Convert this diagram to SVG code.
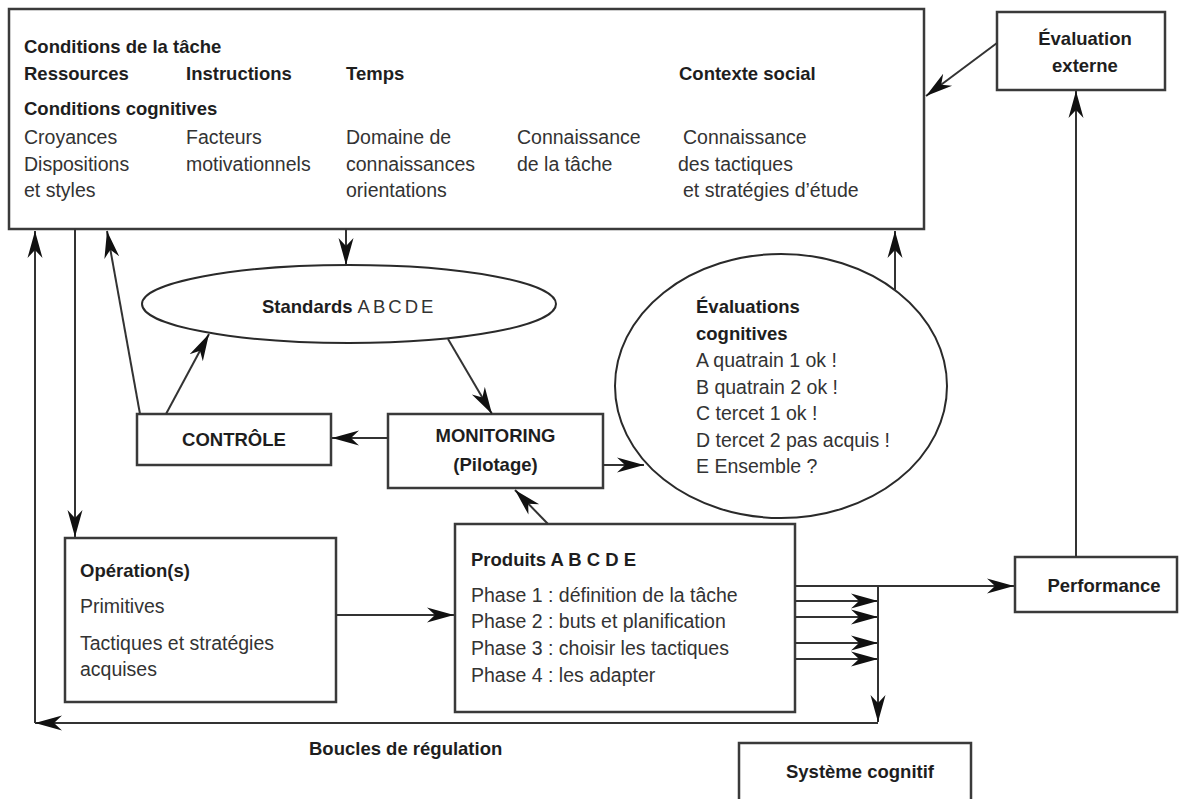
<svg xmlns="http://www.w3.org/2000/svg" width="1180" height="799" viewBox="0 0 1180 799">
  <style>
    .box { fill: #ffffff; stroke: #3a3a3a; stroke-width: 2.5; }
    .ell { fill: #ffffff; stroke: #2a2a2a; stroke-width: 2; }
    .link { fill: none; stroke: #333333; stroke-width: 2; marker-end: url(#arrow); }
    text { font-family: "Liberation Sans", Arial, sans-serif; }
    .b { font-size: 18.5px; font-weight: bold; fill: #1e1e1e; }
    .r { font-size: 19.5px; fill: #333333; }
    .c { text-anchor: middle; }
  </style>
  <defs>
    <!-- swallow-tail arrowhead shared by every connector -->
    <marker id="arrow" markerUnits="userSpaceOnUse" markerWidth="28" markerHeight="18" viewBox="0 0 28 18" refX="27" refY="9" orient="auto">
      <path d="M0,1.5 L27,9 L0,16.5 L8,9 Z" fill="#111111"/>
    </marker>
  </defs>

  <!-- task and cognitive conditions -->
  <g id="conditions">
    <rect class="box" x="9" y="9" width="915" height="220"/>
    <text class="b" x="24" y="53">Conditions de la tâche</text>
    <text class="b" x="24" y="80">Ressources</text>
    <text class="b" x="186" y="80">Instructions</text>
    <text class="b" x="346" y="80">Temps</text>
    <text class="b" x="679" y="80">Contexte social</text>
    <text class="b" x="24" y="115">Conditions cognitives</text>
    <text class="r" x="24" y="144">Croyances</text>
    <text class="r" x="24" y="171">Dispositions</text>
    <text class="r" x="24" y="197">et styles</text>
    <text class="r" x="186" y="144">Facteurs</text>
    <text class="r" x="186" y="171">motivationnels</text>
    <text class="r" x="346" y="144">Domaine de</text>
    <text class="r" x="346" y="171">connaissances</text>
    <text class="r" x="346" y="197">orientations</text>
    <text class="r" x="517" y="144">Connaissance</text>
    <text class="r" x="517" y="171">de la tâche</text>
    <text class="r" x="683" y="144">Connaissance</text>
    <text class="r" x="678" y="171">des tactiques</text>
    <text class="r" x="683" y="197">et stratégies d’étude</text>
  </g>

  <g id="evaluation-externe">
    <rect class="box" x="997" y="12" width="168" height="78"/>
    <text class="b c" x="1085" y="45">Évaluation</text>
    <text class="b c" x="1085" y="72">externe</text>
  </g>

  <g id="standards">
    <ellipse class="ell" cx="349" cy="304" rx="207" ry="39"/>
    <text class="b" x="262" y="313">Standards <tspan font-weight="normal" letter-spacing="3" fill="#333333">ABCDE</tspan></text>
  </g>

  <g id="evaluations-cognitives">
    <ellipse class="ell" cx="781" cy="386" rx="166" ry="132"/>
    <text class="b" x="696" y="313">Évaluations</text>
    <text class="b" x="696" y="340">cognitives</text>
    <text class="r" x="696" y="367">A quatrain 1 ok !</text>
    <text class="r" x="696" y="394">B quatrain 2 ok !</text>
    <text class="r" x="696" y="420">C tercet 1 ok !</text>
    <text class="r" x="696" y="447">D tercet 2 pas acquis !</text>
    <text class="r" x="696" y="473">E Ensemble ?</text>
  </g>

  <g id="controle">
    <rect class="box" x="137" y="414" width="194" height="51"/>
    <text class="b c" x="234" y="446">CONTRÔLE</text>
  </g>

  <g id="monitoring">
    <rect class="box" x="388" y="414" width="215" height="74"/>
    <text class="b c" x="495.5" y="442">MONITORING</text>
    <text class="b c" x="495.5" y="471">(Pilotage)</text>
  </g>

  <g id="operations">
    <rect class="box" x="65" y="538" width="271" height="164"/>
    <text class="b" x="80" y="577">Opération(s)</text>
    <text class="r" x="80" y="613">Primitives</text>
    <text class="r" x="80" y="650">Tactiques et stratégies</text>
    <text class="r" x="80" y="676">acquises</text>
  </g>

  <g id="produits">
    <rect class="box" x="455" y="524" width="340" height="188"/>
    <text class="b" x="471" y="566">Produits A B C D E</text>
    <text class="r" x="471" y="602">Phase 1 : définition de la tâche</text>
    <text class="r" x="471" y="628">Phase 2 : buts et planification</text>
    <text class="r" x="471" y="655">Phase 3 : choisir les tactiques</text>
    <text class="r" x="471" y="682">Phase 4 : les adapter</text>
  </g>

  <g id="performance">
    <rect class="box" x="1015" y="557" width="162" height="55"/>
    <text class="b c" x="1104" y="592">Performance</text>
  </g>

  <g id="systeme-cognitif">
    <rect class="box" x="739" y="743" width="232" height="70"/>
    <text class="b c" x="860" y="778">Système cognitif</text>
  </g>

  <g id="boucles-label">
    <text class="b" x="309" y="755">Boucles de régulation</text>
  </g>

  <!-- connectors -->
  <g id="connectors">
    <path class="link" d="M997,43 L926,96"/>
    <path class="link" d="M1076,557 V91"/>
    <path class="link" d="M346,229 V265"/>
    <path class="link" d="M895,291 V231"/>
    <path class="link" d="M140,414 L107,231"/>
    <path class="link" d="M166,414 L209,334"/>
    <path class="link" d="M448,339 L492,414"/>
    <path class="link" d="M388,438 H332"/>
    <path class="link" d="M603,465 H644"/>
    <path class="link" d="M548,524 L515,490"/>
    <path class="link" d="M75,229 V537"/>
    <path class="link" d="M336,615 H454"/>
    <path class="link" d="M795,586 H1014"/>
    <path class="link" d="M795,601 H878"/>
    <path class="link" d="M795,617 H878"/>
    <path class="link" d="M795,643 H878"/>
    <path class="link" d="M795,659 H878"/>
    <path class="link" d="M878,586 V722"/>
    <path class="link" d="M878,723 H35"/>
    <path class="link" d="M35,723 V231"/>
  </g>
</svg>
